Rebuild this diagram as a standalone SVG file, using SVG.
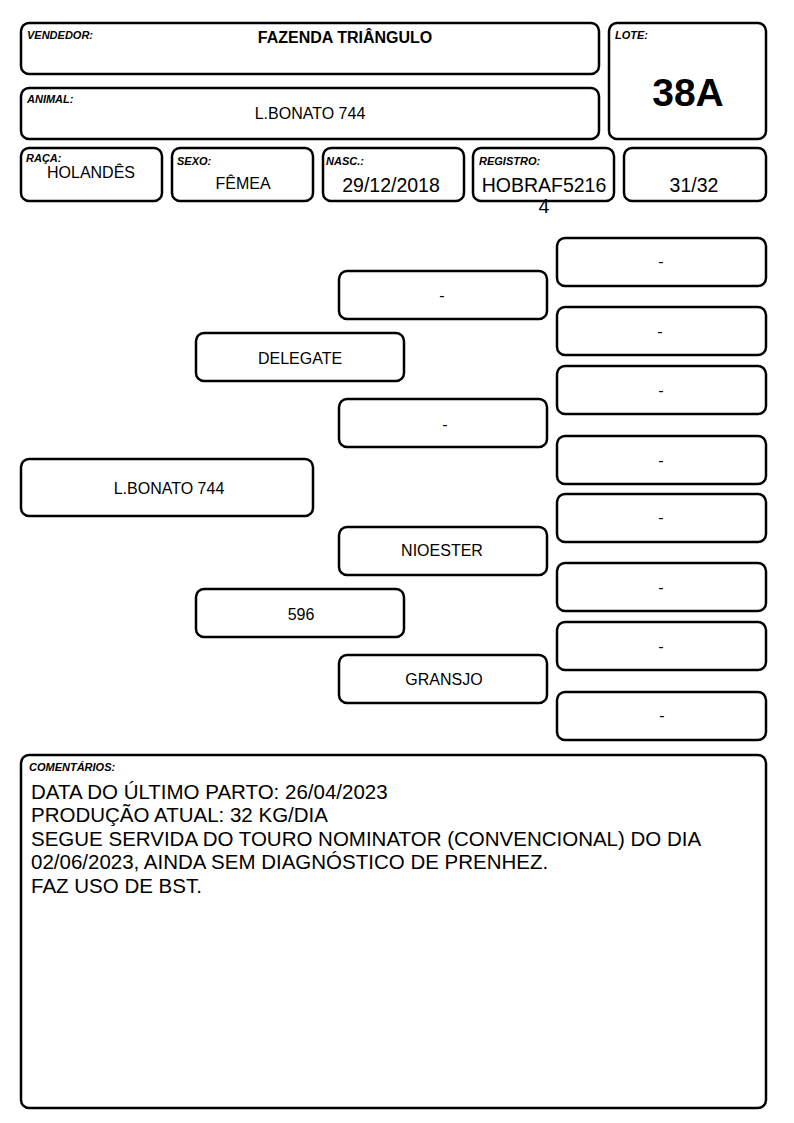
<svg xmlns="http://www.w3.org/2000/svg" width="794" height="1123" viewBox="0 0 794 1123">
<style>
.b{fill:#fff;stroke:#000;stroke-width:2.5}
.lb{font-family:"Liberation Sans",Arial,sans-serif;font-weight:bold;font-style:italic;font-size:11px;fill:#000}
.t{font-family:"Liberation Sans",Arial,sans-serif;font-size:16px;fill:#000;text-anchor:middle}
.t16{font-family:"Liberation Sans",Arial,sans-serif;font-size:19.5px;fill:#000;text-anchor:middle}
.c{font-family:"Liberation Sans",Arial,sans-serif;font-size:20.5px;fill:#000}
</style>
<rect width="794" height="1123" fill="#fff"/>
<g id="vendedor"><rect class="b" x="21" y="23" width="578" height="51" rx="8"/><text class="lb" x="27" y="39">VENDEDOR:</text><text class="t" x="345" y="43" font-weight="bold">FAZENDA TRIÂNGULO</text></g>
<g id="animal"><rect class="b" x="21" y="88" width="578" height="51" rx="8"/><text class="lb" x="27" y="103">ANIMAL:</text><text class="t" x="310" y="119">L.BONATO 744</text></g>
<g id="lote"><rect class="b" x="609" y="23" width="157" height="116" rx="8"/><text class="lb" x="615" y="39">LOTE:</text><text x="688" y="106" font-family="Liberation Sans,Arial,sans-serif" font-weight="bold" font-size="39" text-anchor="middle">38A</text></g>
<g id="raca"><rect class="b" x="21" y="148" width="141" height="53" rx="8"/><text class="lb" x="26" y="162">RAÇA:</text><text class="t" x="91" y="178" font-size="14.5">HOLANDÊS</text></g>
<g id="sexo"><rect class="b" x="172" y="148" width="141" height="53" rx="8"/><text class="lb" x="177" y="165">SEXO:</text><text class="t" x="243" y="189" font-size="14">FÊMEA</text></g>
<g id="nasc"><rect class="b" x="323" y="148" width="141" height="53" rx="8"/><text class="lb" x="326" y="165">NASC.:</text><text class="t16" x="391" y="192">29/12/2018</text></g>
<g id="registro"><rect class="b" x="473" y="148" width="141" height="53" rx="8"/><text class="lb" x="479" y="165">REGISTRO:</text><text class="t16" x="544" y="192">HOBRAF5216</text><text class="t16" x="544" y="213">4</text></g>
<g id="grau"><rect class="b" x="624" y="148" width="142" height="53" rx="8"/><text class="t16" x="694" y="192">31/32</text></g>
<g id="p1"><rect class="b" x="21" y="459" width="292" height="57" rx="8"/><text class="t" x="169" y="494">L.BONATO 744</text></g>
<g id="p2a"><rect class="b" x="196" y="333" width="208" height="48" rx="8"/><text class="t" x="300" y="364">DELEGATE</text></g>
<g id="p2b"><rect class="b" x="196" y="589" width="208" height="48" rx="8"/><text class="t" x="301" y="620">596</text></g>
<g id="p3a"><rect class="b" x="339" y="271" width="208" height="48" rx="8"/><text class="t" x="442" y="301">-</text></g>
<g id="p3b"><rect class="b" x="339" y="399" width="208" height="48" rx="8"/><text class="t" x="445" y="430">-</text></g>
<g id="p3c"><rect class="b" x="339" y="527" width="208" height="48" rx="8"/><text class="t" x="442" y="556">NIOESTER</text></g>
<g id="p3d"><rect class="b" x="339" y="655" width="208" height="48" rx="8"/><text class="t" x="444" y="685">GRANSJO</text></g>
<g id="p4a"><rect class="b" x="557" y="238" width="209" height="48" rx="8"/><text class="t" x="661" y="267">-</text></g>
<g id="p4b"><rect class="b" x="557" y="307" width="209" height="48" rx="8"/><text class="t" x="660" y="337">-</text></g>
<g id="p4c"><rect class="b" x="557" y="366" width="209" height="48" rx="8"/><text class="t" x="661" y="396">-</text></g>
<g id="p4d"><rect class="b" x="557" y="436" width="209" height="48" rx="8"/><text class="t" x="661" y="466">-</text></g>
<g id="p4e"><rect class="b" x="557" y="494" width="209" height="48" rx="8"/><text class="t" x="661" y="523">-</text></g>
<g id="p4f"><rect class="b" x="557" y="563" width="209" height="48" rx="8"/><text class="t" x="661" y="593">-</text></g>
<g id="p4g"><rect class="b" x="557" y="622" width="209" height="48" rx="8"/><text class="t" x="661" y="652">-</text></g>
<g id="p4h"><rect class="b" x="557" y="692" width="209" height="48" rx="8"/><text class="t" x="662" y="721">-</text></g>
<g id="connectors"></g>
<g id="comentarios"><rect class="b" x="21" y="755" width="745" height="353" rx="8"/><text class="lb" x="29" y="771">COMENTÁRIOS:</text>
<text class="c" x="31" y="799">DATA DO ÚLTIMO PARTO: 26/04/2023</text>
<text class="c" x="31" y="822">PRODUÇÃO ATUAL: 32 KG/DIA</text>
<text class="c" x="31" y="846">SEGUE SERVIDA DO TOURO NOMINATOR (CONVENCIONAL) DO DIA</text>
<text class="c" x="31" y="869">02/06/2023, AINDA SEM DIAGNÓSTICO DE PRENHEZ.</text>
<text class="c" x="31" y="893">FAZ USO DE BST.</text></g>
</svg>
